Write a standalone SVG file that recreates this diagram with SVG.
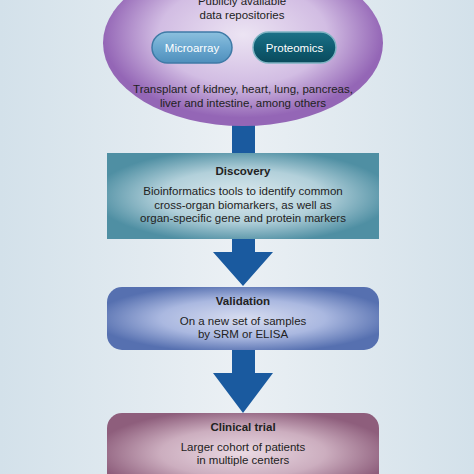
<svg xmlns="http://www.w3.org/2000/svg" width="474" height="474" viewBox="0 0 474 474">
<defs>
<linearGradient id="bg" x1="0" y1="0" x2="1" y2="0">
<stop offset="0" stop-color="#d3e1ea"/>
<stop offset="0.5" stop-color="#ebf0f4"/>
<stop offset="1" stop-color="#d3e1ea"/>
</linearGradient>
<radialGradient id="gEll" cx="0.5" cy="0.45" r="0.5">
<stop offset="0" stop-color="#ece4f3"/>
<stop offset="0.6" stop-color="#d2bde3"/>
<stop offset="1" stop-color="#9466b6"/>
</radialGradient>
<radialGradient id="gDisc" cx="0.5" cy="0.5" r="0.55">
<stop offset="0" stop-color="#dbe9ee"/>
<stop offset="0.55" stop-color="#b2d0da"/>
<stop offset="1" stop-color="#4f8fa3"/>
</radialGradient>
<radialGradient id="gVal" cx="0.5" cy="0.5" r="0.55">
<stop offset="0" stop-color="#d8ddf0"/>
<stop offset="0.55" stop-color="#aab8e0"/>
<stop offset="1" stop-color="#5670b0"/>
</radialGradient>
<radialGradient id="gCli" cx="0.5" cy="0.5" r="0.55">
<stop offset="0" stop-color="#ead9e3"/>
<stop offset="0.55" stop-color="#ccaebf"/>
<stop offset="1" stop-color="#8e5e7c"/>
</radialGradient>
<linearGradient id="gMicro" x1="0" y1="0" x2="0" y2="1">
<stop offset="0" stop-color="#8cc0de"/>
<stop offset="0.5" stop-color="#6aa7cf"/>
<stop offset="1" stop-color="#4f8fbc"/>
</linearGradient>
<linearGradient id="gProt" x1="0" y1="0" x2="0" y2="1">
<stop offset="0" stop-color="#1d7288"/>
<stop offset="0.5" stop-color="#0f5d72"/>
<stop offset="1" stop-color="#0a4a5c"/>
</linearGradient>
<style>
text{font-family:"Liberation Sans",Arial,sans-serif;fill:#222;text-anchor:middle}
.t{font-size:11.5px}
.h{font-size:11.5px;font-weight:bold}
.p{font-size:11.5px;fill:#fff}
.arrow{fill:#1a5a9f}
</style>
</defs>
<rect x="0" y="0" width="474" height="474" fill="url(#bg)"/>
<g id="connectors">
<path class="arrow" d="M232,120 H255 V153 H232 Z"/>
<path class="arrow" d="M232,239 H255 V252 H273 L243,286 L213,252 H232 Z"/>
<path class="arrow" d="M232,350 H255 V373 H273 L243,413 L213,373 H232 Z"/>
</g>
<g id="repositories">
<ellipse cx="243" cy="43" rx="140" ry="83" fill="url(#gEll)"/>
<text class="t" x="242" y="5">Publicly available</text>
<text class="t" x="242" y="19">data repositories</text>
<text class="t" x="243" y="93">Transplant of kidney, heart, lung, pancreas,</text>
<text class="t" x="243" y="107">liver and intestine, among others</text>
</g>
<g id="microarray">
<rect x="152" y="32" width="80" height="31" rx="15.5" fill="url(#gMicro)" stroke="#3f7aa6" stroke-width="1.5"/>
<text class="p" x="192" y="52">Microarray</text>
</g>
<g id="proteomics">
<rect x="253" y="32" width="83" height="31" rx="15.5" fill="url(#gProt)" stroke="#7fb4c4" stroke-width="1.5"/>
<text class="p" x="294.5" y="52">Proteomics</text>
</g>
<g id="discovery">
<rect x="107" y="153" width="272" height="86" fill="url(#gDisc)"/>
<text class="h" x="243" y="175">Discovery</text>
<text class="t" x="243" y="195">Bioinformatics tools to identify common</text>
<text class="t" x="243" y="209">cross-organ biomarkers, as well as</text>
<text class="t" x="243" y="222">organ-specific gene and protein markers</text>
</g>
<g id="validation">
<rect x="107" y="287" width="272" height="63" rx="15" fill="url(#gVal)"/>
<text class="h" x="243" y="305">Validation</text>
<text class="t" x="243" y="325">On a new set of samples</text>
<text class="t" x="243" y="338">by SRM or ELISA</text>
</g>
<g id="clinical">
<rect x="107" y="413" width="272" height="80" rx="15" fill="url(#gCli)"/>
<text class="h" x="243" y="431">Clinical trial</text>
<text class="t" x="243" y="451">Larger cohort of patients</text>
<text class="t" x="243" y="464">in multiple centers</text>
</g>
</svg>
